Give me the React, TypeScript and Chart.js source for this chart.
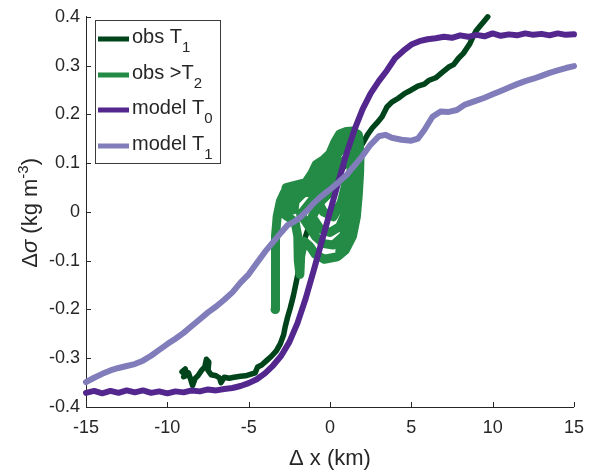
import React, { useEffect, useRef } from 'react';
import { Chart, registerables } from 'chart.js';

Chart.register(...registerables);

const FONT = "'Liberation Sans', Arial, Helvetica, sans-serif";
const AXIS_COLOR = '#262626';

const xTicks = [-15, -10, -5, 0, 5, 10, 15];
const yTicks = [-0.4, -0.3, -0.2, -0.1, 0, 0.1, 0.2, 0.3, 0.4];

const seriesNames = ['obs T', 'obs >T', 'model T', 'model T'];
const seriesSubs = ['1', '2', '0', '1'];
const seriesColors = ['#00441b', '#238b45', '#54278f', '#807dba'];

// model T0 (purple)
const modelT0X = [-15, -14.5, -14, -13.5, -13, -12.5, -12, -11.5, -11, -10.5, -10, -9.5, -9, -8.5, -8, -7.5, -7, -6.5, -6, -5.5, -5, -4.5, -4, -3.5, -3, -2.5, -2, -1.5, -1, -0.5, 0, 0.5, 1, 1.5, 2, 2.5, 3, 3.5, 4, 4.5, 5, 5.5, 6, 6.5, 7, 7.5, 8, 8.5, 9, 9.5, 10, 10.5, 11, 11.5, 12, 12.5, 13, 13.5, 14, 14.5, 15];
const modelT0Y = [-0.371, -0.367, -0.372, -0.367, -0.371, -0.366, -0.37, -0.366, -0.371, -0.368, -0.372, -0.368, -0.37, -0.366, -0.368, -0.364, -0.366, -0.363, -0.361, -0.357, -0.351, -0.343, -0.331, -0.315, -0.295, -0.267, -0.228, -0.178, -0.12, -0.06, 0.0, 0.06, 0.118, 0.168, 0.21, 0.243, 0.268, 0.29, 0.315, 0.33, 0.343, 0.35, 0.354, 0.356, 0.359, 0.357, 0.362, 0.359, 0.363, 0.36, 0.366, 0.361, 0.364, 0.362, 0.366, 0.363, 0.365, 0.362, 0.366, 0.363, 0.364];

// model T1 (light purple)
const modelT1X = [-15, -14.5, -14, -13.5, -13, -12.5, -12, -11.5, -11, -10.5, -10, -9.5, -9, -8.5, -8, -7.5, -7, -6.5, -6, -5.5, -5, -4.5, -4, -3.5, -3, -2.6, -2.2, -1.8, -1.4, -1, -0.5, 0, 0.5, 1, 1.5, 2, 2.5, 3, 3.4, 3.8, 4.4, 5, 5.4, 5.8, 6.3, 6.8, 7.3, 7.8, 8.3, 9, 9.5, 10, 10.5, 11, 11.5, 12, 12.5, 13, 13.5, 14, 14.5, 15];
const modelT1Y = [-0.349, -0.34, -0.332, -0.325, -0.32, -0.316, -0.312, -0.305, -0.295, -0.283, -0.271, -0.26, -0.248, -0.234, -0.22, -0.206, -0.194, -0.18, -0.165, -0.145, -0.128, -0.105, -0.082, -0.062, -0.042, -0.027, -0.02, -0.01, 0.003, 0.018, 0.033, 0.046, 0.06, 0.075, 0.095, 0.115, 0.138, 0.155, 0.158, 0.152, 0.148, 0.146, 0.15, 0.168, 0.195, 0.206, 0.205, 0.209, 0.22, 0.228, 0.234, 0.241, 0.248, 0.255, 0.262, 0.268, 0.273, 0.279, 0.285, 0.29, 0.295, 0.299];

// obs T1 (dark green)
const obsT1X = [-9.1, -8.9, -8.8, -9.0, -8.7, -8.55, -8.45, -8.3, -8.1, -7.9, -7.7, -7.6, -7.45, -7.5, -7.3, -7.0, -6.8, -6.7, -6.5, -6.2, -5.9, -5.5, -5.2, -4.9, -4.6, -4.45, -4.2, -3.9, -3.6, -3.3, -3.05, -2.85, -2.75, -2.6, -2.45, -2.25, -2.05, -1.85, -1.7, -1.4, -1.0, -0.5, 0, 0.5, 1.0, 1.5, 2.0, 2.3, 2.6, 2.9, 3.2, 3.5, 3.8, 4.2, 4.6, 5.0, 5.4, 5.8, 6.1, 6.5, 6.9, 7.3, 7.6, 7.9, 8.2, 8.4, 8.6, 8.8, 9.0, 9.2, 9.45, 9.7];
const obsT1Y = [-0.328, -0.322, -0.335, -0.338, -0.33, -0.345, -0.356, -0.342, -0.335, -0.325, -0.318, -0.302, -0.308, -0.325, -0.334, -0.336, -0.34, -0.35, -0.339, -0.341, -0.339, -0.337, -0.336, -0.333, -0.33, -0.318, -0.314, -0.305, -0.296, -0.285, -0.27, -0.252, -0.235, -0.215, -0.198, -0.172, -0.14, -0.108, -0.07, -0.04, -0.01, 0.02, 0.05, 0.075, 0.1, 0.12, 0.14, 0.158, 0.172, 0.183, 0.195, 0.215, 0.225, 0.233, 0.243, 0.25, 0.258, 0.262, 0.27, 0.275, 0.286, 0.297, 0.302, 0.315, 0.325, 0.335, 0.345, 0.36, 0.372, 0.38, 0.39, 0.4];

// obs >T2 (green)
const obsT2X = [-3.38, -3.38, -3.35, -3.32, -3.25, -3.05, -2.8, -2.4, -2.1, -2.2, -2.6, -2.9, -2.7, -2.1, -1.5, -1.1, -0.85, -0.4, 0.0, 0.3, 0.6, 1.0, 1.4, 1.75, 1.85, 1.82, 1.74, 1.62, 1.38, 0.95, 0.45, -0.35, -0.9, -1.25, -1.6, -1.8, -1.85, -1.95, -1.98, -2.15, -2.6, -3.0, -2.5, -1.8, -1.2, -0.6, 0.0, 0.5, 1.0, 1.5, 1.6, 1.5, 1.25, 0.8, 0.2, -0.4, -0.9, -1.4, -1.8, -1.2, -0.5, 0.1, 0.7, 1.2, 1.35, 1.1, 0.6, 0.0, -0.6, -1.1, -0.6, 0.0, 0.6, 1.0, 0.7, 0.2, -0.4, -1.0, -1.6, -2.2, -3.0, -2.6, -1.9, -1.3, -0.7, -0.1, 0.5, 1.1, 1.6, 1.7, 1.3, 0.6];
const obsT2Y = [-0.2, -0.15, -0.1, -0.05, -0.01, 0.022, 0.04, 0.045, 0.035, 0.005, 0.0, 0.012, 0.05, 0.055, 0.06, 0.08, 0.097, 0.107, 0.12, 0.143, 0.16, 0.165, 0.166, 0.158, 0.12, 0.08, 0.035, -0.01, -0.05, -0.078, -0.092, -0.097, -0.087, -0.07, -0.06, -0.09, -0.128, -0.1, -0.05, -0.02, -0.01, 0.0, 0.03, 0.035, 0.045, 0.07, 0.095, 0.12, 0.14, 0.14, 0.09, 0.03, -0.02, -0.05, -0.068, -0.065, -0.05, -0.025, -0.005, 0.02, 0.05, 0.075, 0.1, 0.115, 0.07, 0.01, -0.03, -0.042, -0.035, -0.01, 0.02, 0.04, 0.07, 0.06, 0.02, -0.01, 0.0, 0.04, 0.04, 0.02, 0.02, 0.045, 0.05, 0.065, 0.085, 0.105, 0.13, 0.15, 0.15, 0.06, -0.03, -0.08];

const toPts = (xs: number[], ys: number[]) => xs.map((x, i) => ({ x, y: ys[i] }));

type Seg = { t: string; size: number; italic?: boolean; dy?: number };

function drawRich(ctx: CanvasRenderingContext2D, segs: Seg[], x: number, y: number, align: 'left' | 'center') {
  const fontOf = (s: Seg) => `${s.italic ? 'italic ' : ''}${s.size}px ${FONT}`;
  let total = 0;
  const widths = segs.map((s) => {
    ctx.font = fontOf(s);
    const w = ctx.measureText(s.t).width;
    total += w;
    return w;
  });
  let cx = align === 'center' ? x - total / 2 : x;
  ctx.textAlign = 'left';
  ctx.textBaseline = 'alphabetic';
  segs.forEach((s, i) => {
    ctx.font = fontOf(s);
    ctx.fillText(s.t, cx, y + (s.dy || 0));
    cx += widths[i];
  });
}

const decorPlugin = {
  id: 'decor',
  afterDraw(chart: any) {
    const ctx: CanvasRenderingContext2D = chart.ctx;
    const { left, right, top, bottom } = chart.chartArea;
    const xs = chart.scales.x;
    const ys = chart.scales.y;
    ctx.save();
    ctx.strokeStyle = AXIS_COLOR;
    ctx.lineWidth = 1;
    ctx.beginPath();
    xTicks.forEach((v) => {
      const p = Math.round(xs.getPixelForValue(v)) + 0.5;
      ctx.moveTo(p, bottom);
      ctx.lineTo(p, bottom - 5);
    });
    yTicks.forEach((v) => {
      const p = Math.round(ys.getPixelForValue(v)) + 0.5;
      ctx.moveTo(left, p);
      ctx.lineTo(left + 5, p);
    });
    ctx.stroke();

    ctx.fillStyle = AXIS_COLOR;
    drawRich(ctx, [{ t: 'Δ x (km)', size: 22 }], (left + right) / 2, 465, 'center');
    ctx.save();
    ctx.translate(31, (top + bottom) / 2 + 1);
    ctx.rotate(-Math.PI / 2);
    drawRich(
      ctx,
      [
        { t: 'Δ', size: 22 },
        { t: 'σ', size: 22, italic: true },
        { t: ' (kg m', size: 22 },
        { t: '-3', size: 15, dy: -9 },
        { t: ')', size: 22 },
      ],
      0,
      6,
      'center'
    );
    ctx.restore();

    const bx = 95, by = 20, bw = 125, bh = 143;
    ctx.fillStyle = '#ffffff';
    ctx.fillRect(bx, by, bw, bh);
    ctx.strokeStyle = '#3a3a3a';
    ctx.lineWidth = 1;
    ctx.strokeRect(bx + 0.5, by + 0.5, bw, bh);
    const rows = [39, 75, 110, 146];
    seriesNames.forEach((name, i) => {
      const ry = rows[i];
      ctx.strokeStyle = seriesColors[i];
      ctx.lineWidth = 5;
      ctx.lineCap = 'butt';
      ctx.beginPath();
      ctx.moveTo(98, ry);
      ctx.lineTo(129, ry);
      ctx.stroke();
      ctx.fillStyle = AXIS_COLOR;
      drawRich(
        ctx,
        [
          { t: name, size: 20 },
          { t: seriesSubs[i], size: 15, dy: 9 },
        ],
        132,
        ry + 4,
        'left'
      );
    });
    ctx.restore();
  },
};

export default function App() {
  const ref = useRef<HTMLCanvasElement | null>(null);
  useEffect(() => {
    if (!ref.current) return;
    const common = {
      pointRadius: 0,
      tension: 0,
      fill: false,
      borderJoinStyle: 'round' as const,
      borderCapStyle: 'round' as const,
      clip: false as const,
    };
    const chart = new Chart(ref.current, {
      type: 'line',
      data: {
        datasets: [
          { ...common, label: 'obs T1', data: toPts(obsT1X, obsT1Y), borderColor: seriesColors[0], borderWidth: 5.5, order: 4 },
          { ...common, label: 'obs >T2', data: toPts(obsT2X, obsT2Y), borderColor: seriesColors[1], borderWidth: 9, order: 3 },
          { ...common, label: 'model T0', data: toPts(modelT0X, modelT0Y), borderColor: seriesColors[2], borderWidth: 6, order: 2 },
          { ...common, label: 'model T1', data: toPts(modelT1X, modelT1Y), borderColor: seriesColors[3], borderWidth: 6, order: 1 },
        ],
      },
      options: {
        animation: false,
        responsive: false,
        events: [],
        layout: { padding: { top: 12, right: 14, left: 0, bottom: 0 } },
        plugins: { legend: { display: false }, tooltip: { enabled: false }, title: { display: false } },
        scales: {
          x: {
            type: 'linear',
            min: -15,
            max: 15,
            afterBuildTicks: (s: any) => {
              s.ticks = xTicks.map((v) => ({ value: v }));
            },
            ticks: { font: { size: 18, family: FONT }, color: AXIS_COLOR, padding: 10, maxRotation: 0, autoSkip: false },
            grid: { display: true, drawOnChartArea: false, drawTicks: false },
            border: { display: true, color: AXIS_COLOR, width: 1 },
            afterFit: (s: any) => {
              s.height = 65;
            },
          },
          y: {
            type: 'linear',
            min: -0.4,
            max: 0.4,
            afterBuildTicks: (s: any) => {
              s.ticks = yTicks.map((v) => ({ value: v }));
            },
            ticks: {
              font: { size: 18, family: FONT },
              color: AXIS_COLOR,
              padding: 6,
              autoSkip: false,
              callback: (v: any) => (Math.abs(Number(v)) < 1e-9 ? '0' : Number(v).toFixed(1)),
            },
            grid: { display: true, drawOnChartArea: false, drawTicks: false },
            border: { display: true, color: AXIS_COLOR, width: 1 },
            afterFit: (s: any) => {
              s.width = 86;
            },
          },
        },
      },
      plugins: [decorPlugin],
    } as any);
    return () => chart.destroy();
  }, []);
  return (
    <div style={{ position: 'fixed', left: 0, top: 0, width: 594, height: 472, background: '#fff' }}>
      <canvas ref={ref} width={594} height={472} style={{ display: 'block', width: 594, height: 472 }} />
    </div>
  );
}
